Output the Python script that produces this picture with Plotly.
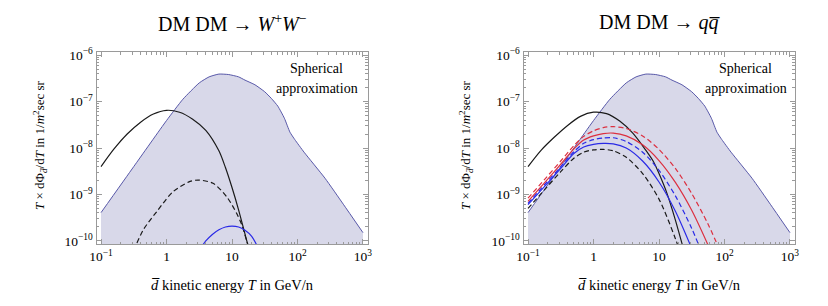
import plotly.graph_objects as go

# ---------------- data ----------------
# shaded "spherical approximation" envelope (same in both panels)
env_T = [0.1, 0.316, 1.0, 1.78, 3.16, 4.47, 6.31, 8.91, 12.6, 15.8, 22.4, 31.6, 39.8,
         50.1, 63.1, 76.7, 91.2, 126, 263, 501, 1000]
env_flux = [4.07e-10, 3.98e-9, 3.89e-8, 1.12e-7, 2.51e-7, 3.39e-7, 3.89e-7, 3.80e-7,
            3.39e-7, 2.88e-7, 2.29e-7, 1.62e-7, 1.17e-7, 7.94e-8, 4.37e-8, 2.19e-8,
            1.51e-8, 8.13e-9, 2.24e-9, 6.17e-10, 1.51e-10]

# left panel: DM DM -> W+W-
ww_black_T = [0.1, 0.158, 0.251, 0.398, 0.631, 1.0, 1.58, 2.51, 3.98, 6.31, 7.94, 10.0, 12.6, 15.8, 20.0]
ww_black = [3.98e-9, 9.55e-9, 2.00e-8, 3.55e-8, 5.37e-8, 6.46e-8, 5.89e-8, 4.17e-8,
            2.40e-8, 8.71e-9, 3.80e-9, 1.41e-9, 4.68e-10, 1.41e-10, 3.98e-11]
ww_black_dash_T = [0.316, 0.447, 0.708, 1.26, 2.29, 3.09, 5.13, 8.32, 11.7, 14.1, 16.6, 19.1]
ww_black_dash = [6.31e-11, 1.78e-10, 4.27e-10, 1.15e-9, 1.91e-9, 2.04e-9, 1.74e-9,
                 8.91e-10, 3.98e-10, 2.24e-10, 1.05e-10, 5.62e-11]
ww_blue_T = [3.16, 3.98, 5.01, 6.31, 7.94, 10.0, 12.6, 15.8, 20.0, 25.1]
ww_blue = [6.31e-11, 1.00e-10, 1.38e-10, 1.74e-10, 2.00e-10, 2.09e-10, 2.00e-10,
           1.70e-10, 1.26e-10, 7.08e-11]

# right panel: DM DM -> q qbar
qq_black_T = [0.1, 0.158, 0.251, 0.398, 0.631, 1.0, 1.58, 2.51, 3.98, 6.31, 8.13, 10.0, 13.2, 17.8, 22.4, 28.2]
qq_black = [3.98e-9, 8.91e-9, 1.70e-8, 3.02e-8, 4.79e-8, 5.89e-8, 5.50e-8, 3.80e-8,
            2.09e-8, 8.91e-9, 5.25e-9, 2.82e-9, 1.07e-9, 2.82e-10, 8.91e-11, 3.16e-11]
qq_T = [0.1, 0.178, 0.316, 0.501, 0.708, 1.0, 1.41, 2.0, 3.16, 5.62, 10.0, 17.8, 31.6, 56.2, 100]
qq_red_dash = [8.32e-10, 2.09e-9, 5.25e-9, 1.12e-8, 1.78e-8, 2.34e-8, 2.75e-8, 2.88e-8,
               2.63e-8, 1.82e-8, 9.33e-9, 3.63e-9, 1.05e-9, 2.29e-10, 3.72e-11]
qq_red = [7.08e-10, 1.78e-9, 4.47e-9, 9.55e-9, 1.48e-8, 1.82e-8, 2.04e-8, 2.09e-8,
          1.82e-8, 1.17e-8, 5.37e-9, 1.82e-9, 4.57e-10, 8.13e-11]
qq_blue_dash = [6.46e-10, 1.62e-9, 3.98e-9, 8.32e-9, 1.26e-8, 1.51e-8, 1.64e-8, 1.66e-8,
                1.38e-8, 8.13e-9, 3.31e-9, 9.33e-10, 1.86e-10, 2.57e-11]
qq_blue = [6.03e-10, 1.48e-9, 3.63e-9, 7.59e-9, 1.05e-8, 1.20e-8, 1.26e-8, 1.23e-8,
           1.00e-8, 5.25e-9, 1.86e-9, 4.37e-10, 6.92e-11]
qq_black_dash = [5.01e-10, 1.26e-9, 3.09e-9, 6.03e-9, 8.13e-9, 9.12e-9, 9.33e-9, 8.71e-9,
                 6.31e-9, 2.82e-9, 7.94e-10, 1.12e-10, 1.0e-11]

x_tickvals = [0.1, 1, 10, 100, 1000]
x_ticktext = ["10<sup>−1</sup>", "1", "10", "10<sup>2</sup>", "10<sup>3</sup>"]
y_tickvals = [1e-10, 1e-9, 1e-8, 1e-7, 1e-6]
y_ticktext = ["10<sup>−10</sup>", "10<sup>−9</sup>", "10<sup>−8</sup>", "10<sup>−7</sup>", "10<sup>−6</sup>"]

titles = ["DM DM → <i>W</i><sup>+</sup><i>W</i><sup>−</sup>", "DM DM → <i>q</i><i>q̅</i>"]
y_title = "<i>T</i> × dΦ<sub><i>d̅</i></sub>/d<i>T</i> in 1/<i>m</i><sup>2</sup>sec sr"
x_title = "<i>d̅</i> kinetic energy <i>T</i> in GeV/n"
note_lines = ["Spherical", "approximation"]

# ---------------- styling ----------------
W, H = 828, 306
FONT = "Liberation Serif"
FILL = "rgb(216,216,233)"
ENV_LINE = "rgb(88,88,168)"
BLACK = "#1a1a1a"
BLUE = "#2a2ae6"
RED = "#dc3040"
FRAME = "#9a9a9a"

px = lambda x: x / W
py = lambda y: 1 - y / H

panels = [
    dict(x0=96.5, x1=367.5, cx=232, ycx=40, note_x=316.5),
    dict(x0=523.5, x1=794.5, cx=659, ycx=466, note_x=745.5),
]
y0, y1 = 52, 244

fig = go.Figure()

def add_line(T, v, color, dash, xa, ya, width=1.2):
    fig.add_trace(go.Scatter(x=T, y=v, mode="lines", xaxis=xa, yaxis=ya,
                             line=dict(color=color, width=width, dash=dash, shape="spline", smoothing=0.8),
                             hoverinfo="skip", showlegend=False))

for i, p in enumerate(panels):
    xa = "x" if i == 0 else "x2"
    ya = "y" if i == 0 else "y2"
    # baseline for envelope fill
    fig.add_trace(go.Scatter(x=[env_T[0], env_T[-1]], y=[1e-13, 1e-13], mode="lines",
                             xaxis=xa, yaxis=ya, line=dict(width=0, color=FILL),
                             hoverinfo="skip", showlegend=False))
    fig.add_trace(go.Scatter(x=env_T, y=env_flux, mode="lines", xaxis=xa, yaxis=ya,
                             fill="tonexty", fillcolor=FILL,
                             line=dict(color=ENV_LINE, width=1, shape="spline", smoothing=0.5),
                             hoverinfo="skip", showlegend=False))
    if i == 0:
        add_line(ww_black_T, ww_black, BLACK, "solid", xa, ya)
        add_line(ww_black_dash_T, ww_black_dash, BLACK, "5px,3px", xa, ya)
        add_line(ww_blue_T, ww_blue, BLUE, "solid", xa, ya)
    else:
        add_line(qq_black_T, qq_black, BLACK, "solid", xa, ya)
        add_line(qq_T[:len(qq_black_dash)], qq_black_dash, BLACK, "5px,3px", xa, ya)
        add_line(qq_T[:len(qq_blue)], qq_blue, BLUE, "solid", xa, ya)
        add_line(qq_T[:len(qq_blue_dash)], qq_blue_dash, BLUE, "5px,3px", xa, ya)
        add_line(qq_T[:len(qq_red)], qq_red, RED, "solid", xa, ya)
        add_line(qq_T[:len(qq_red_dash)], qq_red_dash, RED, "5px,3px", xa, ya)

x_minor = [m * 10 ** e for e in (-1, 0, 1, 2) for m in range(2, 10)]
y_minor = [m * 10.0 ** e for e in (-10, -9, -8, -7) for m in range(2, 10)]

def xaxis_cfg(p, anchor):
    return dict(type="log", range=[-1.069, 3.069], domain=[px(p["x0"]), px(p["x1"])],
                anchor=anchor, automargin=False,
                showline=True, linecolor=FRAME, linewidth=1, mirror="allticks",
                ticks="inside", ticklen=5, tickcolor=FRAME, tickwidth=1,
                tickmode="array", tickvals=x_tickvals, ticktext=x_ticktext,
                tickfont=dict(family=FONT, size=13.5, color="black"),
                minor=dict(tickmode="array", tickvals=x_minor, ticks="inside", ticklen=2.5,
                           tickcolor=FRAME, showgrid=False),
                showgrid=False, zeroline=False)

def yaxis_cfg(anchor):
    return dict(type="log", range=[-10.065, -5.935], domain=[py(y1), py(y0)],
                anchor=anchor, automargin=False,
                showline=True, linecolor=FRAME, linewidth=1, mirror="allticks",
                ticks="inside", ticklen=5, tickcolor=FRAME, tickwidth=1,
                tickmode="array", tickvals=y_tickvals, ticktext=y_ticktext,
                tickfont=dict(family=FONT, size=13.5, color="black"),
                minor=dict(tickmode="array", tickvals=y_minor, ticks="inside", ticklen=2.5,
                           tickcolor=FRAME, showgrid=False),
                showgrid=False, zeroline=False)

annotations = []
for i, p in enumerate(panels):
    annotations.append(dict(text=titles[i], x=px(p["cx"]), y=py(23), xref="paper", yref="paper",
                            showarrow=False, xanchor="center", yanchor="middle",
                            font=dict(family=FONT, size=20, color="black")))
    annotations.append(dict(text=y_title, x=px(p["ycx"]), y=py(145), xref="paper", yref="paper",
                            showarrow=False, xanchor="center", yanchor="middle", textangle=-90,
                            font=dict(family=FONT, size=13, color="black")))
    annotations.append(dict(text=x_title, x=px(p["cx"]), y=py(285), xref="paper", yref="paper",
                            showarrow=False, xanchor="center", yanchor="middle",
                            font=dict(family=FONT, size=14.5, color="black")))
    for j, ln in enumerate(note_lines):
        annotations.append(dict(text=ln, x=px(p["note_x"]), y=py(69 + 19 * j), xref="paper", yref="paper",
                                showarrow=False, xanchor="center", yanchor="middle",
                                font=dict(family=FONT, size=14, color="black")))

fig.update_layout(
    width=W, height=H, margin=dict(l=0, r=0, t=0, b=0),
    paper_bgcolor="white", plot_bgcolor="white",
    xaxis=xaxis_cfg(panels[0], "y"), yaxis=yaxis_cfg("x"),
    xaxis2=xaxis_cfg(panels[1], "y2"), yaxis2=yaxis_cfg("x2"),
    annotations=annotations, showlegend=False,
)

fig.write_html("out.html", config={"displayModeBar": False},
               post_script="document.body.style.margin='0';document.body.style.overflow='hidden';")
